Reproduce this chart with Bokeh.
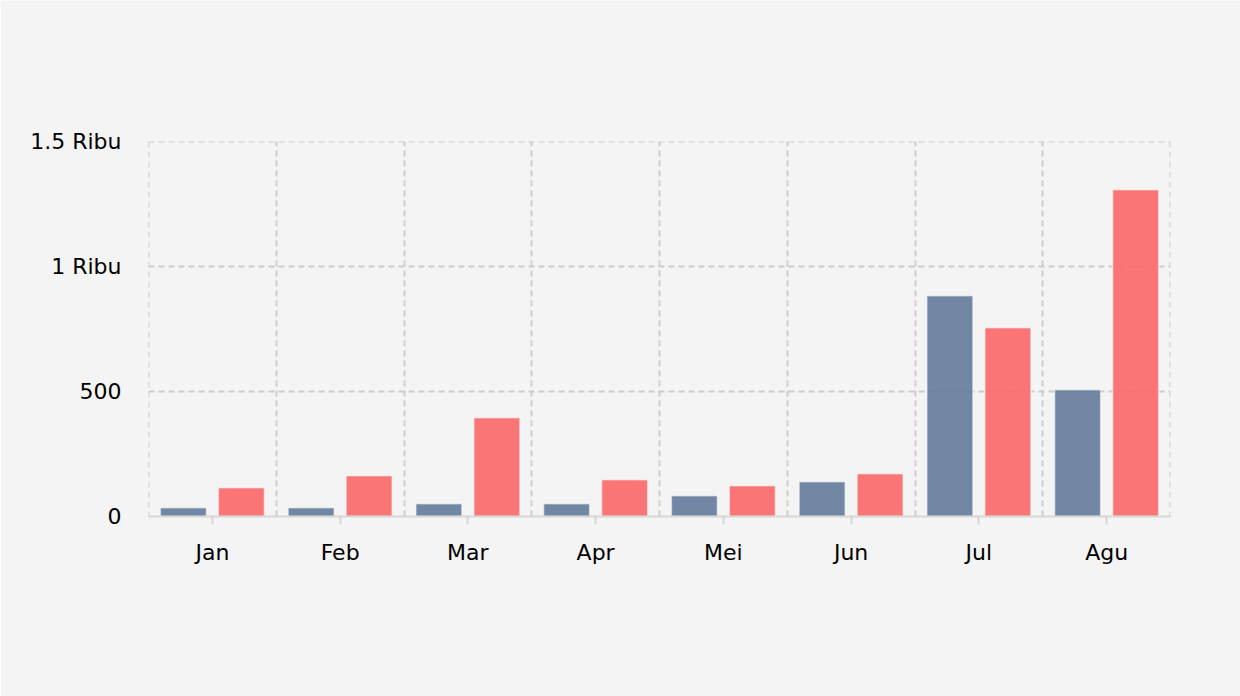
from bokeh.plotting import figure
from bokeh.models import FixedTicker, ColumnDataSource, Range1d, Span
from bokeh.embed import file_html
from bokeh.resources import INLINE

months = ["Jan", "Feb", "Mar", "Apr", "Mei", "Jun", "Jul", "Agu"]
series_a = [35, 35, 51, 51, 83, 139, 883, 507]
series_b = [115, 163, 395, 147, 123, 171, 755, 1307]
y_ticks = [0, 500, 1000, 1500]
y_tick_labels = ["0", "500", "1 Ribu", "1.5 Ribu"]

BG = "#f4f4f4"
FONT = "DejaVu Sans"
GRID = "#cccccc"

idx = list(range(len(months)))
src = ColumnDataSource(dict(
    xa=[i + 0.5 - 0.227 for i in idx],
    xb=[i + 0.5 + 0.227 for i in idx],
    a=series_a,
    b=series_b,
))

p = figure(width=1240, height=696, output_backend="svg", toolbar_location=None,
           x_range=Range1d(0, len(months)), y_range=Range1d(0, y_ticks[-1]),
           background_fill_color=BG, border_fill_color=BG,
           min_border_left=148, min_border_right=70, min_border_top=141,
           min_border_bottom=180)
p.outline_line_color = None

# grids
p.xgrid.ticker = FixedTicker(ticks=list(range(len(months) + 1)))
p.ygrid.ticker = FixedTicker(ticks=y_ticks[1:])
for g in (p.xgrid, p.ygrid):
    g.grid_line_color = GRID
    g.grid_line_dash = "6 4"
    g.grid_line_width = 2

for loc, dim in ((0, "height"), (len(months), "height"), (y_ticks[-1], "width")):
    p.add_layout(Span(location=loc, dimension=dim, line_color=GRID,
                      line_dash="6 4", line_width=2, level="underlay"))

p.vbar(x="xa", top="a", width=0.36, source=src, fill_color="#647b9a", fill_alpha=0.9,
       line_color="white", line_alpha=0.5, line_width=1.5)
p.vbar(x="xb", top="b", width=0.36, source=src, fill_color="#fb6767", fill_alpha=0.9,
       line_color="white", line_alpha=0.5, line_width=1.5)

# x axis
p.xaxis.ticker = FixedTicker(ticks=[i + 0.5 for i in idx])
p.xaxis.major_label_overrides = {i + 0.5: m for i, m in zip(idx, months)}
p.xaxis.minor_tick_line_color = None
p.xaxis.axis_line_color = "#d6d6d6"
p.xaxis.axis_line_width = 2
p.xaxis.major_tick_line_color = "#d6d6d6"
p.xaxis.major_tick_line_width = 2
p.xaxis.major_tick_in = 0
p.xaxis.major_tick_out = 8
p.xaxis.major_label_standoff = 15
p.xaxis.major_label_text_font = FONT
p.xaxis.major_label_text_font_size = "22px"
p.xaxis.major_label_text_color = "#000000"

# y axis
p.yaxis.ticker = FixedTicker(ticks=y_ticks)
p.yaxis.major_label_overrides = {t: l for t, l in zip(y_ticks, y_tick_labels)}
p.yaxis.axis_line_color = None
p.yaxis.major_tick_line_color = None
p.yaxis.minor_tick_line_color = None
p.yaxis.major_tick_out = 0
p.yaxis.major_tick_in = 0
p.yaxis.major_label_standoff = 27
p.yaxis.major_label_text_font = FONT
p.yaxis.major_label_text_font_size = "22px"
p.yaxis.major_label_text_color = "#000000"

open("out.html", "w").write(file_html(p, INLINE))
